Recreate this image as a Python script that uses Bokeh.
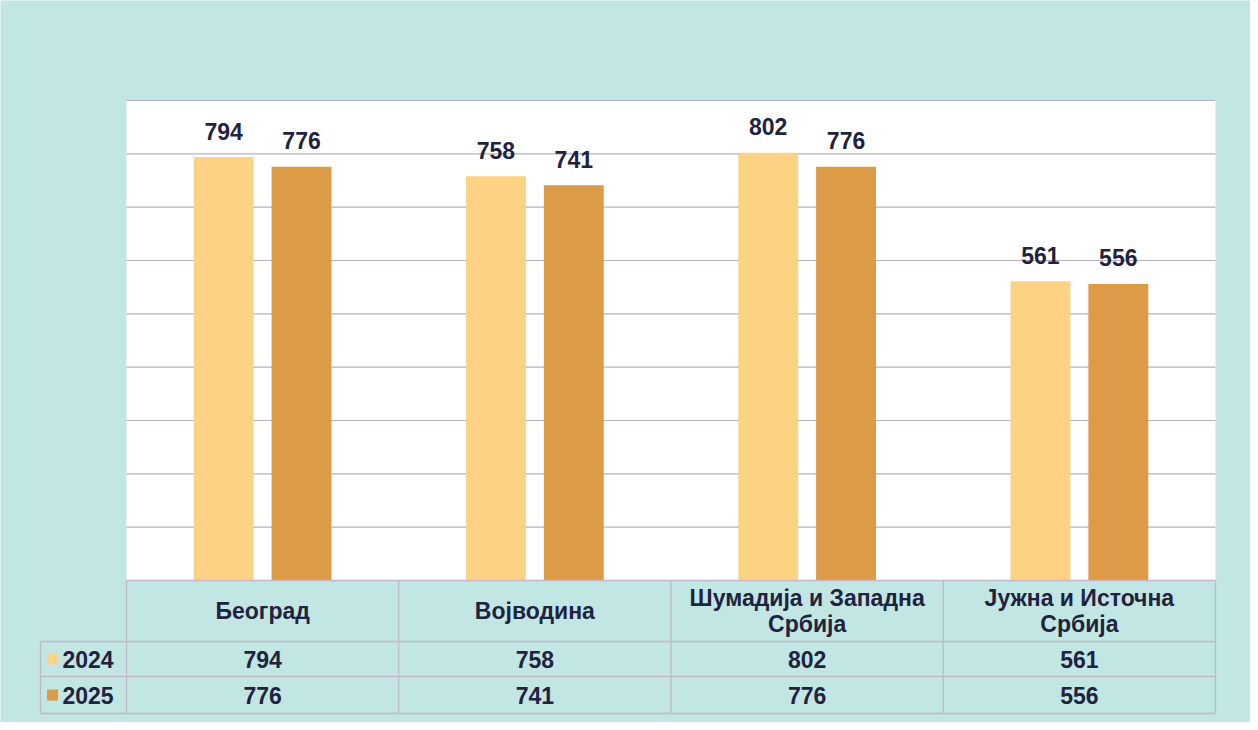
from bokeh.plotting import figure
from bokeh.embed import file_html
from bokeh.resources import INLINE
from bokeh.core.properties import value
from bokeh.transform import dodge
from bokeh.models import ColumnDataSource

# ---- data ----
categories = ["Београд", "Војводина", "Шумадија и Западна\nСрбија", "Јужна и Источна\nСрбија"]
years = ["2024", "2025"]
v2024 = [794, 758, 802, 561]
v2025 = [776, 741, 776, 556]
grid_values = [100, 200, 300, 400, 500, 600, 700, 800, 900]

# ---- styles ----
C2024 = "#fcd384"
C2025 = "#dd9a47"
TEAL = "#c1e6e3"
GRID = "#b9aec4"
BORDER = "#c2b8cc"
TXT = "#1f2340"
FONT = value("Liberation Sans")
FS = "23px"

# layout helpers (pixel -> data)
PX_PER_CAT = 272.25
PX_PER_UNIT = 480 / 900
def dx(px):
    return (px - 126) / PX_PER_CAT
def dy(py):
    return (580 - py) / PX_PER_UNIT

W, H = 1250, 722
p = figure(width=W, height=H, x_range=(dx(0), dx(W)), y_range=(dy(H), dy(0)),
           output_backend="svg", toolbar_location=None, min_border=0,
           x_axis_location=None, y_axis_location=None,
           background_fill_color=TEAL, border_fill_color=TEAL, outline_line_color=None)
p.xgrid.visible = False
p.ygrid.visible = False

n = len(categories)
# white plot area
p.quad(left=0, right=n, bottom=0, top=max(grid_values), fill_color="white", line_color=None)
# gridlines
p.segment(x0=[0] * len(grid_values), x1=[n] * len(grid_values), y0=grid_values, y1=grid_values,
          line_color=GRID, line_width=1.2)

src = ColumnDataSource(dict(
    x=[i + 0.5 for i in range(n)],
    v2024=v2024, v2025=v2025,
    t2024=[str(v) for v in v2024], t2025=[str(v) for v in v2025],
    cat=categories,
))
OFF = 0.143
BW = 0.22
p.vbar(x=dodge("x", -OFF, range=p.x_range), top="v2024", width=BW, bottom=0, source=src,
       fill_color=C2024, line_color=None)
p.vbar(x=dodge("x", OFF, range=p.x_range), top="v2025", width=BW, bottom=0, source=src,
       fill_color=C2025, line_color=None)

lbl = dict(text_font=FONT, text_font_style="bold", text_font_size=FS, text_color=TXT,
           text_align="center")
p.text(x=dodge("x", -OFF, range=p.x_range), y="v2024", text="t2024", source=src,
       text_baseline="middle", y_offset=-26, **lbl)
p.text(x=dodge("x", OFF, range=p.x_range), y="v2025", text="t2025", source=src,
       text_baseline="middle", y_offset=-26, **lbl)

# ---- data table below ----
y_head_top = 0
y_head_bot = dy(641)
y_r1_bot = dy(676)
y_r2_bot = dy(713)
x_leg = dx(40)

# horizontal borders
p.segment(x0=[0, x_leg, x_leg, x_leg], x1=[n, n, n, n],
          y0=[y_head_top, y_head_bot, y_r1_bot, y_r2_bot],
          y1=[y_head_top, y_head_bot, y_r1_bot, y_r2_bot],
          line_color=BORDER, line_width=1.3)
# vertical borders
vx = [x_leg] + list(range(n + 1))
vy0 = [y_head_bot] + [y_head_top] * (n + 1)
p.segment(x0=vx, x1=vx, y0=vy0, y1=[y_r2_bot] * len(vx), line_color=BORDER, line_width=1.3)

# header texts
p.text(x="x", y=(y_head_top + y_head_bot) / 2, text="cat", source=src, text_baseline="middle",
       text_line_height=1.0, **lbl)
# value rows
p.text(x="x", y=(y_head_bot + y_r1_bot) / 2, text="t2024", source=src, text_baseline="middle", **lbl)
p.text(x="x", y=(y_r1_bot + y_r2_bot) / 2, text="t2025", source=src, text_baseline="middle", **lbl)

# legend keys
row_y = [(y_head_bot + y_r1_bot) / 2, (y_r1_bot + y_r2_bot) / 2]
p.scatter(x=[dx(52)] * 2, y=row_y, marker="square", size=11, fill_color=[C2024, C2025], line_color=None)
p.text(x=[dx(62)] * 2, y=row_y, text=years, text_font=FONT, text_font_style="bold",
       text_font_size=FS, text_color=TXT, text_align="left", text_baseline="middle")

open("out.html", "w").write(file_html(p, INLINE))
